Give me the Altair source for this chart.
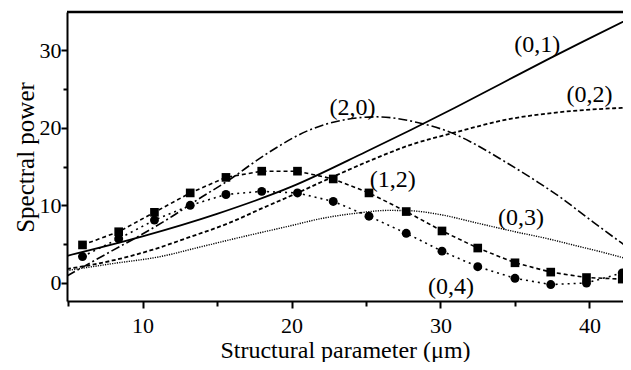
import altair as alt
import pandas as pd

# ---- data ----
c01_x = [4.93, 10.0, 15.0, 20.0, 25.0, 28.0, 31.0, 34.0, 37.3, 40.0, 42.72]
c01_y = [3.5, 6.0, 8.9, 12.4, 16.9, 19.7, 22.6, 25.6, 28.9, 31.5, 34.1]

c02_x = [4.93, 8.0, 10.7, 13.0, 15.9, 18.0, 20.4, 22.0, 25.7, 28.0, 30.8, 34.6, 38.0, 42.72]
c02_y = [1.8, 2.9, 4.3, 5.8, 7.8, 9.6, 11.6, 13.0, 16.1, 17.8, 19.3, 21.1, 22.0, 22.6]

c20_x = [4.93, 8.0, 10.0, 12.0, 14.0, 15.6, 18.3, 21.2, 23.5, 25.7, 28.6, 30.8, 32.0, 34.0, 36.6, 38.0, 40.0, 42.2, 42.72]
c20_y = [0.9, 4.2, 6.3, 8.6, 11.1, 13.0, 16.6, 19.7, 21.0, 21.4, 20.6, 19.3, 18.2, 16.0, 12.9, 11.1, 8.2, 5.1, 4.4]

c03_x = [4.93, 8.0, 11.2, 14.0, 16.6, 20.0, 22.0, 24.4, 26.5, 28.0, 30.0, 32.5, 35.0, 37.2, 39.1, 41.0, 42.72]
c03_y = [1.6, 2.5, 3.4, 4.7, 5.9, 7.4, 8.3, 9.0, 9.35, 9.3, 8.8, 7.7, 6.6, 5.7, 4.8, 3.9, 3.0]

pts_x = [5.97, 8.4, 10.8, 13.2, 15.6, 18.0, 20.4, 22.8, 25.2, 27.7, 30.1, 32.5, 35.0, 37.4, 39.8, 42.2]
sq12_y = [4.9, 6.6, 9.1, 11.6, 13.6, 14.4, 14.4, 13.4, 11.6, 9.2, 6.7, 4.5, 2.6, 1.4, 0.7, 0.5]
ci04_y = [3.4, 5.7, 8.1, 10.0, 11.4, 11.8, 11.6, 10.5, 8.6, 6.4, 4.1, 2.1, 0.6, -0.2, 0.0, 1.3]

lab_text = ["(0,1)", "(0,2)", "(2,0)", "(1,2)", "(0,3)", "(0,4)"]
lab_x = [36.5, 40.0, 24.1, 26.8, 35.4, 30.7]
lab_y = [30.6, 24.2, 22.5, 13.3, 8.4, -0.5]

x_ticks = [5, 10, 15, 20, 25, 30, 35, 40]
y_ticks = [0, 5, 10, 15, 20, 25, 30]

FONT = "Liberation Serif"
W, H = 556, 289
xs = alt.Scale(domain=[4.93, 42.25], nice=False, zero=False)
ys = alt.Scale(domain=[-2.32, 34.9], nice=False, zero=False)

major_test = "datum.value % 10 === 0"
xaxis = alt.Axis(
    values=x_ticks, title="Structural parameter (\u03bcm)", grid=False,
    labelExpr="datum.value % 10 === 0 ? datum.label : ''",
    tickSize={"condition": {"test": major_test, "value": 7}, "value": 5},
    tickWidth=2, domainWidth=2, domainColor="black", tickColor="black",
    labelFont=FONT, labelFontSize=22, labelColor="black", labelPadding=7,
    titleFont=FONT, titleFontSize=24, titleFontWeight="normal", titleColor="black",
    titleBaseline="alphabetic", titleY=56,
)
yaxis = alt.Axis(
    values=y_ticks, title="Spectral power", grid=False,
    labelExpr="datum.value % 10 === 0 ? datum.label : ''",
    tickSize={"condition": {"test": major_test, "value": 6}, "value": 4},
    tickWidth=2, domainWidth=2, domainColor="black", tickColor="black",
    labelFont=FONT, labelFontSize=22, labelColor="black", labelPadding=0,
    titleFont=FONT, titleFontSize=25, titleFontWeight="normal", titleColor="black",
    titleBaseline="alphabetic", titleX=-34, titleY=145,
)

X = alt.X("x:Q", scale=xs, axis=xaxis)
Y = alt.Y("y:Q", scale=ys, axis=yaxis)

def curve(xv, yv, dash, width):
    df = pd.DataFrame({"x": xv, "y": yv})
    kw = {"strokeDash": dash} if dash else {}
    return alt.Chart(df).mark_line(color="black", strokeWidth=width, interpolate="monotone", clip=True, **kw).encode(
        x=X, y=Y
    )

c01 = curve(c01_x, c01_y, None, 1.8)
c02 = curve(c02_x, c02_y, [4, 2.5], 1.8)
c20 = curve(c20_x, c20_y, [9, 3, 2, 3], 1.6)
c03 = curve(c03_x, c03_y, [1.2, 1.2], 1.4)

df12 = pd.DataFrame({"x": pts_x, "y": sq12_y})
df04 = pd.DataFrame({"x": pts_x, "y": ci04_y})
l12 = alt.Chart(df12).mark_line(color="black", strokeWidth=1.6, strokeDash=[4, 3]).encode(x=X, y=Y)
p12 = alt.Chart(df12).mark_point(shape="square", filled=True, color="black", size=75, opacity=1).encode(x=X, y=Y)
l04 = alt.Chart(df04).mark_line(color="black", strokeWidth=1.6, strokeDash=[2, 4]).encode(x=X, y=Y)
p04 = alt.Chart(df04).mark_point(shape="circle", filled=True, color="black", size=80, opacity=1).encode(x=X, y=Y)

labs = alt.Chart(pd.DataFrame({"t": lab_text, "x": lab_x, "y": lab_y})).mark_text(
    font=FONT, fontSize=24, color="black", align="center", baseline="middle"
).encode(x=X, y=Y, text="t:N")

top = alt.Chart(pd.DataFrame({"y": [34.9]})).mark_rule(color="black", strokeWidth=2.5).encode(
    y=Y, x=alt.value(0), x2=alt.value(W))

chart = alt.layer(c01, c02, c20, c03, l12, l04, p12, p04, labs, top).properties(
    width=W, height=H,
    autosize=alt.AutoSizeParams(type="none"),
    padding={"left": 59, "top": 4, "right": 0, "bottom": 61},
).configure_view(stroke=None).configure(background="white")

chart.save("out.html", embed_options={"renderer": "svg", "actions": False})
